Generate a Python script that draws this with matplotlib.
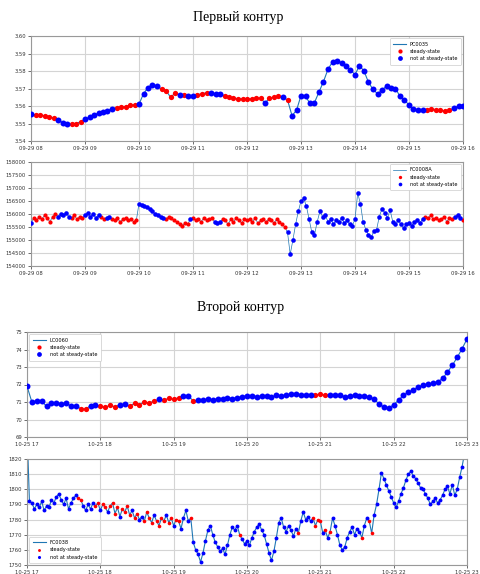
import numpy as np
import pandas as pd
import matplotlib
matplotlib.use("Agg")
import matplotlib.pyplot as plt
import matplotlib.dates as mdates

# ---------------- Loop 1: pressure PC0035 (5-minute samples, 08:00-16:00)
day1 = "2021-09-29"
pc0035_step = "5min"
pc0035 = [
    3.5555, 3.5550, 3.5547, 3.5545, 3.5540, 3.5532, 3.5522, 3.5505, 3.5495, 3.5495,
    3.5500, 3.5510, 3.5525, 3.5535, 3.5548, 3.5560, 3.5565, 3.5572, 3.5585, 3.5590,
    3.5593, 3.5597, 3.5603, 3.5607, 3.5610, 3.5670, 3.5705, 3.5722, 3.5712, 3.5698,
    3.5688, 3.5651, 3.5672, 3.5665, 3.5662, 3.5660, 3.5658, 3.5665, 3.5670, 3.5676,
    3.5672, 3.5670, 3.5668, 3.5660, 3.5652, 3.5645, 3.5642, 3.5640, 3.5638, 3.5642,
    3.5646, 3.5645, 3.5617, 3.5645, 3.5650, 3.5655, 3.5650, 3.5635, 3.5545, 3.5575,
    3.5660, 3.5655, 3.5615, 3.5620, 3.5680, 3.5740, 3.5810, 3.5852, 3.5855, 3.5848,
    3.5830, 3.5805, 3.5780, 3.5830, 3.5800, 3.5735, 3.5695, 3.5670, 3.5690, 3.5715,
    3.5705, 3.5700, 3.5655, 3.5635, 3.5605, 3.5582, 3.5578, 3.5575, 3.5580, 3.5582,
    3.5580, 3.5575, 3.5572, 3.5575, 3.5590, 3.5598, 3.5600,
]
pc0035_steady = [
    ("08:05", "08:25"), ("08:45", "08:55"), ("09:35", "09:55"), ("10:25", "10:40"),
    ("10:50", "10:50"), ("11:05", "11:15"), ("11:35", "12:15"), ("12:25", "12:35"),
    ("12:45", "12:45"), ("15:20", "15:45"),
]

# ---------------- Loop 1: flow FC0008A (3-minute samples, 08:00-16:00)
fc0008a_step = "3min"
fc0008a = [
    155650, 155850, 155750, 155900, 155800, 155950, 155850, 155700, 155900, 156000,
    155900, 156000, 155950, 156050, 155900, 155850, 155950, 155800, 155900, 155850,
    155950, 156050, 155900, 156000, 155850, 155950, 155900, 155800, 155850, 155900,
    155800, 155750, 155850, 155700, 155800, 155850, 155750, 155800, 155700, 155750,
    156400, 156350, 156300, 156250, 156200, 156100, 156000, 155950, 155900, 155850,
    155800, 155900, 155850, 155750, 155700, 155600, 155550, 155650, 155600, 155800,
    155850, 155750, 155800, 155700, 155850, 155750, 155800, 155850, 155700, 155650,
    155700, 155800, 155750, 155600, 155800, 155700, 155850, 155750, 155650, 155800,
    155750, 155800, 155700, 155850, 155650, 155750, 155800, 155700, 155800, 155750,
    155650, 155800, 155700, 155600, 155500, 155300, 154450, 155000, 155600, 156100,
    156500, 156600, 156300, 155800, 155300, 155200, 155700, 156100, 155900, 155950,
    155700, 155800, 155600, 155750, 155700, 155850, 155650, 155750, 155600, 155550,
    155800, 156800, 156400, 155700, 155400, 155200, 155100, 155350, 155400, 155900,
    156200, 156050, 155850, 156150, 155700, 155600, 155750, 155600, 155450, 155600,
    155650, 155550, 155700, 155750, 155650, 155800, 155900, 155850, 155950, 155800,
    155850, 155750, 155800, 155900, 155700, 155850, 155800, 155900, 155950, 155850,
    155750,
]
fc0008a_steady = [
    ("08:03", "08:27"), ("08:45", "08:57"), ("09:18", "09:21"), ("09:30", "09:57"),
    ("10:30", "10:54"), ("11:00", "11:21"), ("11:33", "12:42"), ("15:18", "15:48"),
    ("16:00", "16:00"),
]

# ---------------- Loop 2: level LC0060 (4-minute samples, 17:00-23:00)
day2 = "2021-10-25"
lc0060_step = "4min"
lc0060 = [
    71.90, 71.00, 71.05, 71.05, 70.75, 70.92, 70.95, 70.88, 70.95, 70.75,
    70.78, 70.62, 70.58, 70.80, 70.85, 70.75, 70.70, 70.82, 70.72, 70.85,
    70.88, 70.78, 70.92, 70.85, 71.00, 70.95, 71.05, 71.15, 71.10, 71.22,
    71.15, 71.25, 71.32, 71.32, 71.08, 71.10, 71.12, 71.15, 71.12, 71.18,
    71.15, 71.25, 71.20, 71.25, 71.30, 71.35, 71.35, 71.30, 71.32, 71.35,
    71.28, 71.38, 71.35, 71.40, 71.45, 71.48, 71.38, 71.40, 71.38, 71.42,
    71.45, 71.38, 71.42, 71.40, 71.42, 71.30, 71.35, 71.38, 71.35, 71.32,
    71.30, 71.15, 70.90, 70.70, 70.65, 70.85, 71.10, 71.40, 71.55, 71.70,
    71.85, 71.95, 72.02, 72.08, 72.15, 72.35, 72.70, 73.10, 73.55, 74.05,
    74.60,
]
lc0060_steady = [
    ("17:44", "17:48"), ("18:00", "18:12"), ("18:24", "18:44"), ("18:52", "19:04"),
    ("19:16", "19:16"), ("20:56", "21:04"),
]

# ---------------- Loop 2: flow FC0038 (2-minute samples, 17:00-22:58)
fc0038_step = "2min"
fc0038 = [
    1840, 1792, 1791, 1787, 1790, 1788, 1792, 1786, 1789, 1788,
    1793, 1791, 1795, 1797, 1793, 1790, 1794, 1787, 1791, 1794,
    1796, 1794, 1793, 1789, 1786, 1790, 1787, 1791, 1789, 1791,
    1786, 1790, 1788, 1785, 1789, 1791, 1784, 1788, 1782, 1787,
    1785, 1789, 1783, 1786, 1781, 1784, 1780, 1782, 1779, 1785,
    1781, 1778, 1783, 1779, 1776, 1781, 1779, 1783, 1778, 1781,
    1776, 1780, 1779, 1774, 1781, 1786, 1779, 1781, 1765, 1760,
    1757, 1752, 1758, 1766, 1773, 1776, 1770, 1765, 1762, 1759,
    1761, 1757, 1763, 1770, 1775, 1773, 1776, 1770, 1767, 1764,
    1766, 1763, 1768, 1772, 1775, 1777, 1773, 1770, 1764, 1758,
    1753, 1759, 1768, 1778, 1781, 1775, 1772, 1776, 1773, 1769,
    1774, 1771, 1779, 1785, 1780, 1782, 1779, 1781, 1776, 1780,
    1779, 1771, 1773, 1768, 1772, 1781, 1776, 1770, 1763, 1760,
    1762, 1768, 1772, 1775, 1770, 1774, 1772, 1768, 1776, 1781,
    1779, 1771, 1783, 1790, 1800, 1811, 1807, 1803, 1799, 1795,
    1791, 1788, 1792, 1797, 1801, 1806, 1810, 1812, 1809, 1807,
    1804, 1801, 1800, 1797, 1794, 1790, 1792, 1794, 1791, 1793,
    1796, 1800, 1802, 1797, 1803, 1796, 1800, 1808, 1815, 1824,
]
fc0038_steady = [
    ("17:42", "17:44"), ("17:56", "17:58"), ("18:02", "18:04"), ("18:08", "18:14"),
    ("18:18", "18:24"), ("18:28", "18:30"), ("18:36", "18:42"), ("18:46", "18:52"),
    ("18:56", "18:58"), ("19:02", "19:04"), ("19:14", "19:14"), ("19:54", "19:54"),
    ("20:42", "20:42"), ("20:54", "21:00"), ("21:04", "21:04"), ("21:08", "21:08"),
    ("21:34", "21:34"), ("21:40", "21:42"),
]

titles = ["Первый контур", "Второй контур"]


def series(day, start, step, values, steady):
    t = pd.date_range(f"{day} {start}", periods=len(values), freq=step)
    mask = np.zeros(len(t), dtype=bool)
    for a, b in steady:
        mask |= (t >= pd.Timestamp(f"{day} {a}")) & (t <= pd.Timestamp(f"{day} {b}"))
    return np.asarray(t.to_pydatetime()), np.asarray(values, dtype=float), mask


def panel(ax, day, start, step, values, steady, label, xr, yr, ystep, yfmt,
          loc, ms_r, ms_b, lw):
    t, v, m = series(day, start, step, values, steady)
    ax.plot(t, v, color="#1f77b4", lw=lw, label=label, zorder=2)
    ax.plot(t[m], v[m], ls="none", marker="o", ms=ms_r, mew=0, color="red",
            label="steady-state", zorder=3)
    ax.plot(t[~m], v[~m], ls="none", marker="o", ms=ms_b, mew=0, color="blue",
            label="not at steady-state", zorder=3)
    ax.set_xlim(pd.Timestamp(f"{day} {xr[0]}"), pd.Timestamp(f"{day} {xr[1]}"))
    ax.set_ylim(*yr)
    ax.set_yticks(np.arange(yr[0], yr[1] + ystep / 2, ystep))
    ax.yaxis.set_major_formatter(plt.FormatStrFormatter(yfmt))
    ax.xaxis.set_major_locator(mdates.HourLocator(interval=1))
    ax.xaxis.set_major_formatter(mdates.DateFormatter("%m-%d %H"))
    ax.grid(True, color="#d4d4d4", lw=0.8)
    ax.set_axisbelow(True)
    ax.tick_params(labelsize=3.8, length=2, width=0.5, pad=1.5, colors="#333333")
    for s in ax.spines.values():
        s.set_color("#999999")
        s.set_linewidth(0.8)
    leg = ax.legend(loc=loc, fontsize=3.6, frameon=True, fancybox=True,
                    framealpha=1, edgecolor="#cccccc", handlelength=2.6,
                    borderpad=0.7, labelspacing=0.45, handletextpad=0.8,
                    borderaxespad=0.4, markerscale=0.8)
    leg.get_frame().set_linewidth(0.5)


fig = plt.figure(figsize=(4.8, 5.74), dpi=100)
H = 574.0
W = 480.0


def rect(x0, x1, y0, y1):
    return [x0 / W, 1 - y1 / H, (x1 - x0) / W, (y1 - y0) / H]


ax1 = fig.add_axes(rect(31, 463, 36, 141))
ax2 = fig.add_axes(rect(31, 463, 162, 266))
ax3 = fig.add_axes(rect(27, 467, 332, 437))
ax4 = fig.add_axes(rect(27, 467, 459, 565))

panel(ax1, day1, "08:00", pc0035_step, pc0035, pc0035_steady, "PC0035",
      ("08:00", "16:00"), (3.54, 3.60), 0.01, "%.2f", "upper right", 3.8, 4.3, 0.8)
panel(ax2, day1, "08:00", fc0008a_step, fc0008a, fc0008a_steady, "FC0008A",
      ("08:00", "16:00"), (154000, 158000), 500, "%d", "upper right", 3.0, 3.3, 0.5)
panel(ax3, day2, "17:00", lc0060_step, lc0060, lc0060_steady, "LC0060",
      ("17:00", "23:00"), (69, 75), 1, "%d", "upper left", 3.8, 4.3, 0.8)
panel(ax4, day2, "17:00", fc0038_step, fc0038, fc0038_steady, "FC0038",
      ("17:00", "23:00"), (1750, 1820), 10, "%d", "lower left", 2.6, 2.8, 0.8)

fig.text(0.496, 1 - 18 / H, titles[0], ha="center", va="center",
         family="Liberation Serif", fontsize=10)
fig.text(0.502, 1 - 308 / H, titles[1], ha="center", va="center",
         family="Liberation Serif", fontsize=10)

fig.savefig("out.png", dpi=100)
